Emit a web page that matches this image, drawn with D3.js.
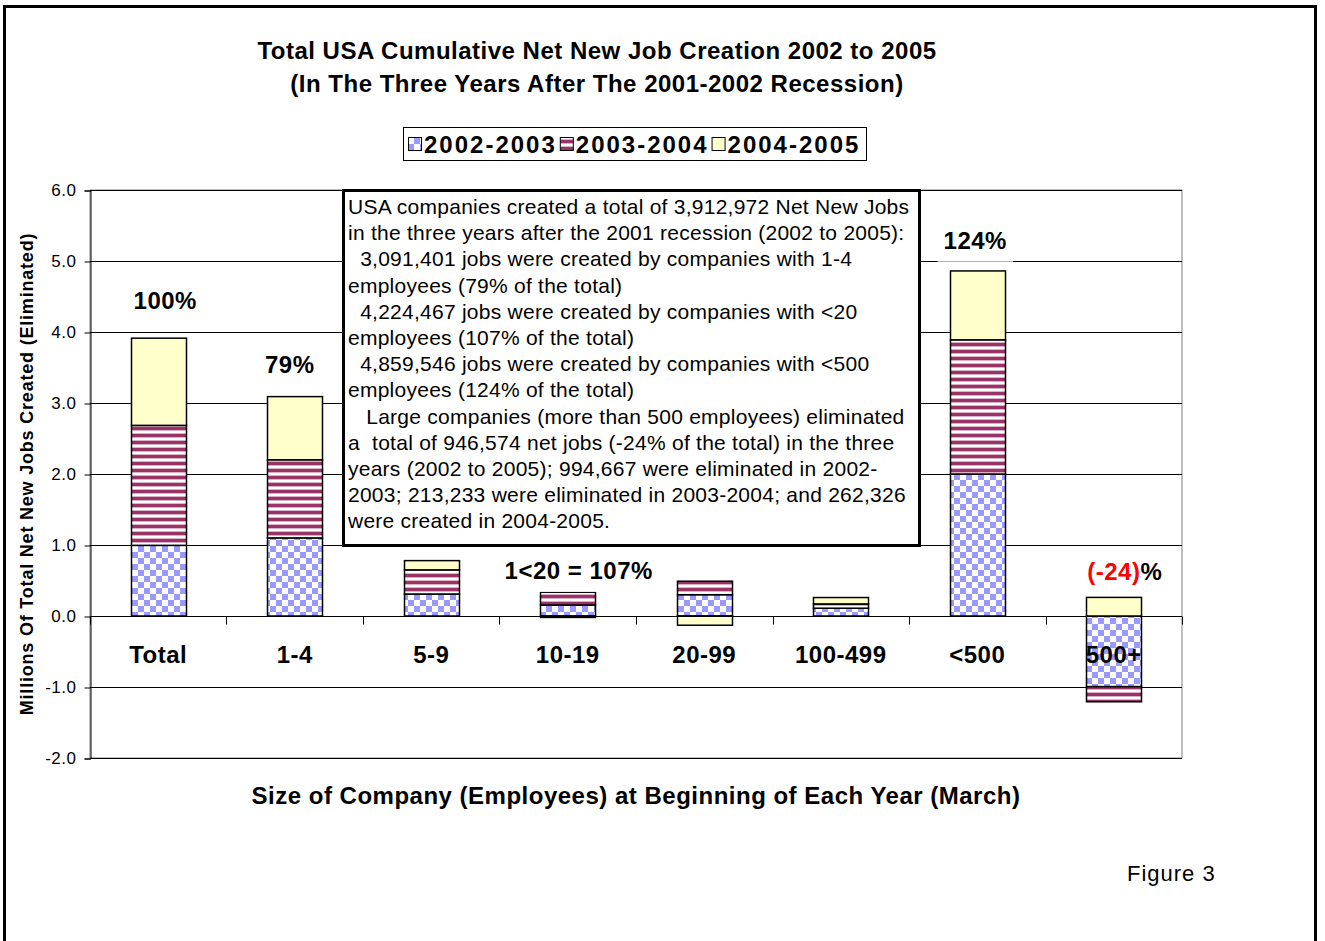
<!DOCTYPE html>
<meta charset="utf-8">
<head>
  <title>Net New Job Creation 2002 to 2005</title>
</head>
<style>
body { margin: 0; background: #fff; }
text { font-family: "Liberation Sans", Arial, sans-serif; fill: #000; }
.bold { font-weight: bold; }
.big { font-size: 24px; letter-spacing: 0.5px; }
</style>
<body>
<svg id="chart" width="1325" height="941"></svg>
<script src="https://cdnjs.cloudflare.com/ajax/libs/d3/7.8.5/d3.min.js"></script>
<script>
var categories = ["Total", "1-4", "5-9", "10-19", "20-99", "100-499", "<500", "500+"];
var seriesNames = ["2002-2003", "2003-2004", "2004-2005"];
// millions of net new jobs
var jobs0203 = [0.995, 1.10, 0.31, 0.155, 0.30, 0.11, 2.00, -0.995];
var jobs0304 = [1.69, 1.10, 0.34, 0.18, 0.19, 0.06, 1.89, -0.213];
var jobs0405 = [1.228, 0.89, 0.13, -0.02, -0.13, 0.09, 0.97, 0.262];
var yTicks = [-2, -1, 0, 1, 2, 3, 4, 5, 6];

// percent labels, anchored to a category and a value on the y scale
var notes = [
  {cat: "Total", at: 4.45, dx: 7, parts: [["100%", "#000"]]},
  {cat: "1-4", at: 3.55, dx: -5, parts: [["79%", "#000"]]},
  {cat: "<500", at: 5.30, dx: -2, parts: [["124%", "#000"]]},
  {cat: "10-19", at: 0.65, dx: 11, parts: [["1<20 = 107%", "#000"]]},
  {cat: "500+", at: 0.63, dx: 11, parts: [["(-24)", "#ff0000"], ["%", "#000"]]}
];

var boxLines = [
  "USA companies created a total of 3,912,972 Net New Jobs",
  "in the three years after the 2001 recession (2002 to 2005):",
  "  3,091,401 jobs were created by companies with 1-4",
  "employees (79% of the total)",
  "  4,224,467 jobs were created by companies with <20",
  "employees (107% of the total)",
  "  4,859,546 jobs were created by companies with <500",
  "employees (124% of the total)",
  "   Large companies (more than 500 employees) eliminated",
  "a  total of 946,574 net jobs (-24% of the total) in the three",
  "years (2002 to 2005); 994,667 were eliminated in 2002-",
  "2003; 213,233 were eliminated in 2003-2004; and 262,326",
  "were created in 2004-2005."
];

var table = categories.map(function(c, i) {
  return {cat: c, "2002-2003": jobs0203[i], "2003-2004": jobs0304[i], "2004-2005": jobs0405[i]};
});

var svg = d3.select("#chart");
var plot = {left: 90, right: 1182, top: 190, bottom: 758};

var x = d3.scaleBand().domain(categories).range([plot.left, plot.right])
  .paddingInner(0.597).paddingOuter(0.2985);
var y = d3.scaleLinear().domain([-2, 6]).range([plot.bottom, plot.top]);

// fill patterns
var defs = svg.append("defs");
var checker = defs.append("pattern").attr("id", "pat0").attr("patternUnits", "userSpaceOnUse")
  .attr("width", 12).attr("height", 12);
checker.append("rect").attr("width", 12).attr("height", 12).attr("fill", "#fff");
checker.append("rect").attr("width", 6).attr("height", 6).attr("fill", "#9999ff");
checker.append("rect").attr("x", 6).attr("y", 6).attr("width", 6).attr("height", 6).attr("fill", "#9999ff");

var stripes = defs.append("pattern").attr("id", "pat1").attr("patternUnits", "userSpaceOnUse")
  .attr("width", 8).attr("height", 7);
stripes.append("rect").attr("width", 8).attr("height", 7).attr("fill", "#fff");
stripes.append("rect").attr("y", 0).attr("width", 8).attr("height", 3).attr("fill", "#993366");
stripes.append("rect").attr("y", 3).attr("width", 8).attr("height", 1).attr("fill", "#dcb0c6");
stripes.append("rect").attr("y", 6).attr("width", 8).attr("height", 1).attr("fill", "#dcb0c6");

var fills = {"2002-2003": "url(#pat0)", "2003-2004": "url(#pat1)", "2004-2005": "#ffffcc"};

// outer frame
svg.append("rect").attr("x", 4.5).attr("y", 6.5).attr("width", 1311).attr("height", 950)
  .attr("fill", "none").attr("stroke", "#000").attr("stroke-width", 3);

// title
svg.append("text").attr("class", "bold big").attr("x", 597).attr("y", 59)
  .attr("text-anchor", "middle")
  .text("Total USA Cumulative Net New Job Creation 2002 to 2005");
svg.append("text").attr("class", "bold big").attr("x", 597).attr("y", 92)
  .attr("text-anchor", "middle")
  .text("(In The Three Years After The 2001-2002 Recession)");

// plot border and gridlines
svg.append("rect").attr("x", plot.left).attr("y", plot.top)
  .attr("width", plot.right - plot.left).attr("height", plot.bottom - plot.top)
  .attr("fill", "none").attr("stroke", "#808080");

svg.append("g").selectAll("line").data(yTicks).join("line")
  .attr("x1", plot.left).attr("x2", plot.right)
  .attr("y1", function(d) { return Math.round(y(d)) + 0.5; })
  .attr("y2", function(d) { return Math.round(y(d)) + 0.5; })
  .attr("stroke", "#000").attr("stroke-width", 1);

// y axis
var yAxis = svg.append("g").attr("transform", "translate(" + (plot.left + 0.5) + ",0.5)")
  .call(d3.axisLeft(y).tickValues(yTicks).tickFormat(function(d) { return d.toFixed(1); })
    .tickSize(6).tickPadding(8));
yAxis.select(".domain").attr("stroke", "#000");
yAxis.selectAll("text").style("font-size", "17px").style("letter-spacing", "0.5px")
  .style("font-family", "'Liberation Sans', Arial, sans-serif");

svg.append("text").attr("class", "bold")
  .attr("transform", "translate(33," + ((plot.top + plot.bottom) / 2) + ") rotate(-90)")
  .attr("text-anchor", "middle").style("font-size", "18px").style("letter-spacing", "0.8px")
  .text("Millions Of Total Net New Jobs Created (Eliminated)");

// stacked bars
var stack = d3.stack().keys(seriesNames).offset(d3.stackOffsetDiverging);
var layers = stack(table);

svg.append("g").selectAll("g").data(layers).join("g")
  .attr("fill", function(d) { return fills[d.key]; })
  .selectAll("rect").data(function(d) { return d; }).join("rect")
  .attr("x", function(d) { return Math.round(x(d.data.cat)) + 0.5; })
  .attr("width", Math.round(x.bandwidth()))
  .attr("y", function(d) { return y(Math.max(d[0], d[1])); })
  .attr("height", function(d) { return Math.abs(y(d[0]) - y(d[1])); })
  .attr("stroke", "#000").attr("stroke-width", 1.5);

// x axis at zero with ticks at category boundaries
var zeroY = Math.round(y(0)) + 0.5;
svg.append("line").attr("x1", plot.left).attr("x2", plot.right)
  .attr("y1", zeroY).attr("y2", zeroY).attr("stroke", "#000");
var gap = (x.step() - x.bandwidth()) / 2;
var bounds = categories.map(function(c) { return x(c) - gap; }).concat([plot.right]);
svg.append("g").selectAll("line").data(bounds).join("line")
  .attr("x1", function(d) { return Math.round(d) + 0.5; })
  .attr("x2", function(d) { return Math.round(d) + 0.5; })
  .attr("y1", zeroY).attr("y2", zeroY + 8).attr("stroke", "#000");

svg.append("g").selectAll("text").data(categories).join("text")
  .attr("class", "bold big")
  .attr("x", function(d) { return x(d) + x.bandwidth() / 2; })
  .attr("y", zeroY + 46).attr("text-anchor", "middle")
  .text(function(d) { return d; });

svg.append("text").attr("class", "bold big").attr("x", (plot.left + plot.right) / 2).attr("y", 804)
  .attr("text-anchor", "middle")
  .text("Size of Company (Employees) at Beginning of Each Year (March)");

// percent labels on white backgrounds
notes.forEach(function(n) {
  var g = svg.append("g");
  var bg = g.append("rect").attr("fill", "#fff");
  var t = g.append("text").attr("class", "bold big")
    .attr("x", x(n.cat) + x.bandwidth() / 2 + n.dx).attr("y", y(n.at) + 9)
    .attr("text-anchor", "middle");
  n.parts.forEach(function(p) { t.append("tspan").attr("fill", p[1]).text(p[0]); });
  var b = t.node().getBBox();
  bg.attr("x", b.x - 6).attr("y", b.y - 4).attr("width", b.width + 12).attr("height", b.height + 12);
});

// text box
var box = svg.append("g");
box.append("rect").attr("x", 343.5).attr("y", 190.5).attr("width", 576).attr("height", 355)
  .attr("fill", "#fff").attr("stroke", "#000").attr("stroke-width", 3);
box.selectAll("text").data(boxLines).join("text")
  .attr("x", 348).attr("y", function(d, i) { return 214 + i * 26.2; })
  .style("font-size", "21px").style("letter-spacing", "0.25px").style("white-space", "pre")
  .text(function(d) { return d; });

// legend
var leg = svg.append("g");
leg.append("rect").attr("x", 403.5).attr("y", 127.5).attr("width", 463).attr("height", 33)
  .attr("fill", "#fff").attr("stroke", "#000");
var lx = 408;
seriesNames.forEach(function(s) {
  leg.append("rect").attr("x", lx + 0.5).attr("y", 137.5).attr("width", 13).attr("height", 13)
    .attr("fill", fills[s]).attr("stroke", "#000");
  var t = leg.append("text").attr("class", "bold").attr("x", lx + 16).attr("y", 153)
    .style("font-size", "24px").style("letter-spacing", "2px").text(s);
  lx += 16 + t.node().getComputedTextLength() + 3;
});

svg.append("text").attr("x", 1127).attr("y", 881).style("font-size", "22px")
  .style("letter-spacing", "1px").text("Figure 3");
</script>
</body>
</html>
